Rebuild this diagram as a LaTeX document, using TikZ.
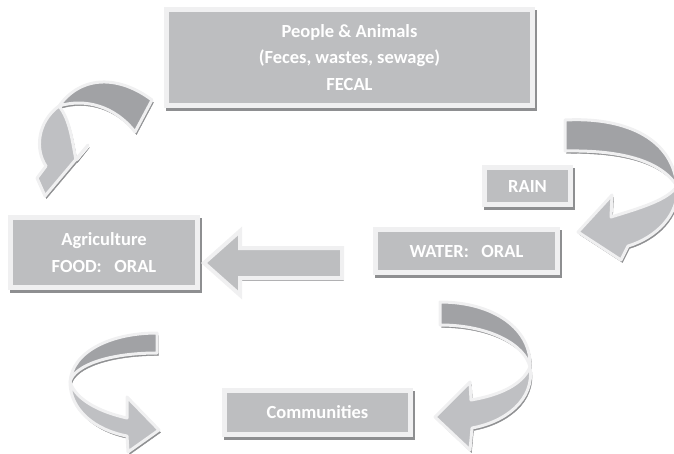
\documentclass[tikz,border=0pt]{standalone}
\usepackage{fontspec}
\setmainfont{Carlito}

\definecolor{boxgray}{HTML}{BDBEC0}
\definecolor{rimwhite}{HTML}{F0F0F1}
\definecolor{shadegray}{HTML}{8E8F91}
\definecolor{backgray}{HTML}{A1A2A5}
\definecolor{frontgray}{HTML}{BFC0C3}

\begin{document}
\begin{tikzpicture}[x=1pt, y=-1pt,
    dropped/.style={preaction={fill=shadegray, draw=shadegray,
        transform canvas={xshift=1.5pt, yshift=-2.5pt}}},
    block/.style={dropped, rectangle, fill=boxgray, draw=rimwhite, line width=5pt,
        text=white, font=\bfseries\fontsize{18.5}{26.5}\selectfont,
        align=center, inner sep=0pt},
    backside/.style={dropped, fill=backgray, draw=rimwhite, line width=3pt, line join=round},
    frontside/.style={dropped, fill=frontgray, draw=rimwhite, line width=3pt, line join=round}]

    % Fix the page to the size of the reference
    \useasboundingbox (0,0) rectangle (674,453);

    % Curved arrow from the top box down to agriculture
    \draw[backside] (152,100) .. controls (120,76) and (82,74) .. (59,106)
        .. controls (85,98) and (115,106) .. (135,132) -- cycle;
    \draw[frontside] (59,106) .. controls (37,122) and (35,150) .. (46,166)
        -- (37,178) -- (45,196) -- (88,145) -- (76,160)
        .. controls (72,140) and (70,120) .. (59,106) -- cycle;

    % Curved arrow round the rain box
    \draw[backside] (565,120) .. controls (620,117) and (672,135) .. (677,186)
        .. controls (660,160) and (620,150) .. (565,151) -- cycle;
    \draw[frontside] (677,186) .. controls (680,215) and (655,238) .. (628,246)
        -- (621,260) -- (578,232) -- (612,195) -- (611,217)
        .. controls (640,208) and (668,200) .. (677,186) -- cycle;

    % Curved arrow from water down to communities
    \draw[backside] (440,302) .. controls (495,302) and (532,330) .. (530,367)
        .. controls (525,345) and (490,325) .. (440,325) -- cycle;
    \draw[frontside] (530,367) .. controls (535,400) and (505,422) .. (472,428)
        -- (470,450) -- (435,417) -- (470,382) -- (471,400)
        .. controls (500,395) and (522,385) .. (530,367) -- cycle;

    % Curved arrow on the lower left
    \draw[backside] (157,333) .. controls (110,333) and (72,352) .. (70,382)
        .. controls (74,365) and (110,353) .. (157,353) -- cycle;
    \draw[frontside] (70,382) .. controls (70,410) and (95,430) .. (127,436)
        -- (128,452) -- (159,430) -- (127,397) -- (127,418)
        .. controls (100,412) and (76,400) .. (70,382) -- cycle;

    % The boxes
    \node[block, minimum width=366pt, minimum height=96pt] (people) at (349.5,57.5)
        {People \& Animals\\(Feces, wastes, sewage)\\FECAL};
    \node[block, minimum width=86pt, minimum height=37pt] (rain) at (527.5,186) {RAIN};
    \node[block, minimum width=182pt, minimum height=43pt] (water) at (466.5,251)
        {WATER:~~~ORAL};
    \node[block, minimum width=187pt, minimum height=70pt] (agri) at (104,252.5)
        {Agriculture\\FOOD:~~~ORAL};
    \node[block, minimum width=186pt, minimum height=44pt] (comm) at (317.5,412.5)
        {Communities};

    % Block arrow from water to agriculture
    \coordinate (tip) at ([xshift=4pt, yshift=-10.5pt]agri.east);
    \draw[dropped, fill=boxgray, draw=rimwhite, line width=4pt, line join=miter]
        (tip) -- ++(36,-32) -- ++(0,17) -- ++(102,0) -- ++(0,30)
        -- ++(-102,0) -- ++(0,17) -- cycle;

\end{tikzpicture}
\end{document}
